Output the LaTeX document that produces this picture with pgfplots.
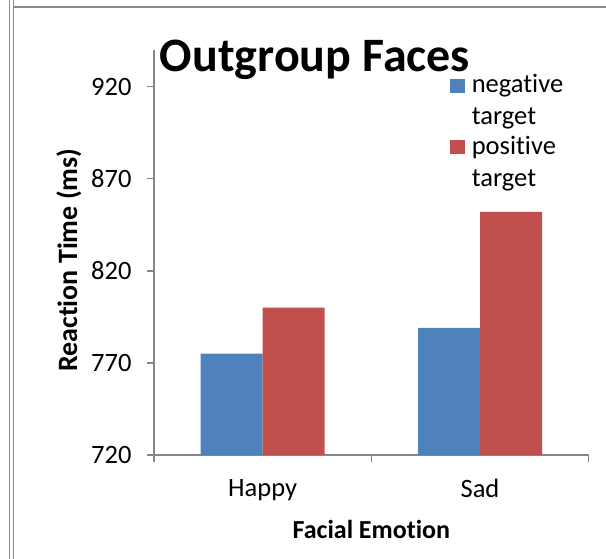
\documentclass[border=0pt]{standalone}
\usepackage{pgfplots}
\pgfplotsset{compat=1.18}
\usepackage{fontspec}
\setmainfont{Carlito}[Ligatures=NoCommon]
\definecolor{xlblue}{HTML}{4F81BD}
\definecolor{xlred}{HTML}{C0504D}
\definecolor{axgray}{HTML}{868686}
\definecolor{framegray}{HTML}{8C8C8C}
\begin{document}
\begin{tikzpicture}
\useasboundingbox (0pt,0pt) rectangle (606pt,559pt);
% frame lines
\draw[framegray, line width=1pt] (9pt,0pt) -- (9pt,559pt);
\draw[framegray, line width=1.8pt] (13.5pt,0pt) -- (13.5pt,559pt);
\draw[framegray, line width=1.5pt] (13.5pt,552pt) -- (606pt,552pt);
\begin{axis}[
  at={(154pt,104pt)}, anchor=south west,
  scale only axis, width=434.7pt, height=405pt,
  ymin=720, ymax=940,
  xmin=-0.5, xmax=1.5,
  ybar=0pt, bar width=62pt,
  axis lines*=left,
  axis line style={axgray, line width=1.2pt},
  ytick={720,770,820,870,920},
  xtick={-0.5,0.5,1.5},
  xticklabels={},
  extra x ticks={0,1},
  extra x tick labels={Happy,Sad},
  extra x tick style={major tick length=0pt, xticklabel style={yshift=-21pt}},
  tick align=outside,
  major tick length=7pt,
  tick style={axgray, line width=1.2pt},
  /pgf/number format/assume math mode=true,
  /pgf/number format/1000 sep={},
  tick label style={font=\fontsize{26.5}{31}\selectfont, black},
  yticklabel style={xshift=-12pt},
  xlabel={\textbf{Facial Emotion}},
  ylabel={\textbf{Reaction Time (ms)}},
  xlabel style={font=\fontsize{26}{31}\selectfont, at={(axis description cs:0.5,-0.205)}, anchor=base},
  ylabel style={font=\fontsize{28}{31}\selectfont, at={(axis description cs:-0.177,0.481)}, rotate=0, anchor=base},
  legend style={draw=none, fill=none, at={(axis description cs:0.68,0.945)}, anchor=north west,
    font=\fontsize{26.5}{32}\selectfont, cells={anchor=base west, align=left},
    row sep=6pt, inner sep=0pt,
    /tikz/every odd column/.append style={column sep=5pt}},
  legend image code/.code={\fill[#1] (0pt,32pt) rectangle (15pt,46pt);},
]
\addplot[fill=xlblue, draw=none] coordinates {(0,775) (1,789)};
\addlegendentry{negative\\target}
\addplot[fill=xlred, draw=none] coordinates {(0,800) (1,852)};
\addlegendentry{positive\\target}
\end{axis}
\node[font=\fontsize{48}{56}\selectfont\bfseries, anchor=base] at (315pt,487pt) {Outgroup Faces};
\end{tikzpicture}
\end{document}
